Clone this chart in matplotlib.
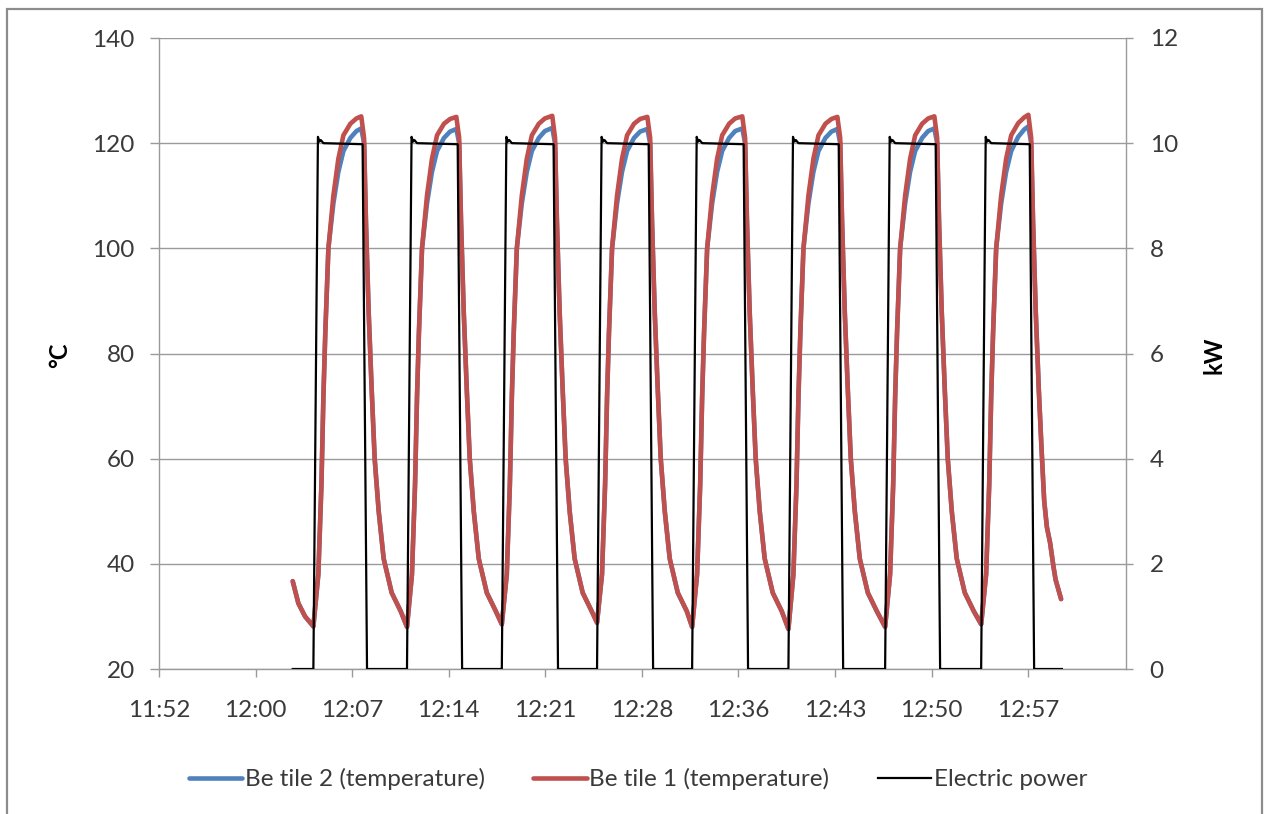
import matplotlib
matplotlib.use("Agg")
import matplotlib.pyplot as plt
from matplotlib.patches import Rectangle

# ---- data (time in minutes after 12:00) ----
t_temp = [
    2.77, 3.19, 3.69,
    # cycle 1
    4.31, 4.68, 4.91, 5.06, 5.20, 5.43, 5.80, 6.17, 6.55, 7.07, 7.52,
    7.88, 8.09, 8.23, 8.43, 8.66, 8.88, 9.18, 9.55, 10.15, 10.82,
    # cycle 2
    11.29, 11.66, 11.89, 12.04, 12.18, 12.41, 12.78, 13.15, 13.53, 14.05, 14.50,
    14.97, 15.18, 15.32, 15.52, 15.75, 15.97, 16.27, 16.64, 17.24, 17.91,
    # cycle 3
    18.36, 18.73, 18.96, 19.11, 19.25, 19.48, 19.85, 20.22, 20.60, 21.12, 21.57,
    22.12, 22.33, 22.47, 22.67, 22.90, 23.12, 23.42, 23.79, 24.39, 25.06,
    # cycle 4
    25.46, 25.83, 26.06, 26.21, 26.35, 26.58, 26.95, 27.32, 27.70, 28.22, 28.67,
    29.21, 29.42, 29.56, 29.76, 29.99, 30.21, 30.51, 30.88, 31.48, 32.15,
    # cycle 5
    32.55, 32.92, 33.15, 33.30, 33.44, 33.67, 34.04, 34.41, 34.79, 35.31, 35.76,
    36.29, 36.50, 36.64, 36.84, 37.07, 37.29, 37.59, 37.96, 38.56, 39.23,
    # cycle 6
    39.73, 40.10, 40.33, 40.48, 40.62, 40.85, 41.22, 41.59, 41.97, 42.49, 42.94,
    43.38, 43.59, 43.73, 43.93, 44.16, 44.38, 44.68, 45.05, 45.65, 46.32,
    # cycle 7
    46.94, 47.31, 47.54, 47.69, 47.83, 48.06, 48.43, 48.80, 49.18, 49.70, 50.15,
    50.61, 50.82, 50.96, 51.16, 51.39, 51.61, 51.91, 52.28, 52.88, 53.55,
    # cycle 8
    54.10, 54.47, 54.70, 54.85, 54.99, 55.22, 55.59, 55.96, 56.34, 56.86, 57.31,
    57.62, 57.83, 57.97, 58.17, 58.40, 58.60, 58.80, 59.00, 59.24, 59.49, 59.65, 60.06,
]

tile1_temp = [
    36.7, 32.5, 30.0,
    28.1, 38, 55, 72, 84, 100, 110, 117, 121.5, 123.7, 124.7,
    125.1, 121, 105, 88, 73, 60, 50, 41, 34.5, 31,
    28.0, 38, 55, 72, 84, 100, 110, 117, 121.5, 123.7, 124.6,
    125.0, 121, 105, 88, 73, 60, 50, 41, 34.5, 31,
    28.5, 38, 55, 72, 84, 100, 110, 117, 121.5, 123.7, 124.7,
    125.2, 121, 105, 88, 73, 60, 50, 41, 34.5, 31,
    28.8, 38, 55, 72, 84, 100, 110, 117, 121.5, 123.7, 124.6,
    125.0, 121, 105, 88, 73, 60, 50, 41, 34.5, 31,
    28.0, 38, 55, 72, 84, 100, 110, 117, 121.5, 123.7, 124.7,
    125.1, 121, 105, 88, 73, 60, 50, 41, 34.5, 31,
    27.6, 38, 55, 72, 84, 100, 110, 117, 121.5, 123.7, 124.6,
    125.0, 121, 105, 88, 73, 60, 50, 41, 34.5, 31,
    28.0, 38, 55, 72, 84, 100, 110, 117, 121.5, 123.7, 124.7,
    125.1, 121, 105, 88, 73, 60, 50, 41, 34.5, 31,
    28.5, 38, 55, 72, 84, 100, 110, 117, 121.5, 123.8, 124.9,
    125.4, 121, 105, 88, 73, 62, 52, 47, 44, 39.5, 37, 33.3,
]

tile2_temp = [
    36.7, 32.5, 30.0,
    28.1, 38, 55, 72, 84, 100, 108.5, 114.5, 118.5, 121.0, 122.3,
    122.8, 120, 105, 88, 73, 60, 50, 41, 34.5, 31,
    28.0, 38, 55, 72, 84, 100, 108.5, 114.5, 118.5, 121.0, 122.2,
    122.7, 120, 105, 88, 73, 60, 50, 41, 34.5, 31,
    28.5, 38, 55, 72, 84, 100, 108.5, 114.5, 118.5, 121.0, 122.3,
    122.9, 120, 105, 88, 73, 60, 50, 41, 34.5, 31,
    28.8, 38, 55, 72, 84, 100, 108.5, 114.5, 118.5, 121.0, 122.2,
    122.7, 120, 105, 88, 73, 60, 50, 41, 34.5, 31,
    28.0, 38, 55, 72, 84, 100, 108.5, 114.5, 118.5, 121.0, 122.3,
    122.8, 120, 105, 88, 73, 60, 50, 41, 34.5, 31,
    27.6, 38, 55, 72, 84, 100, 108.5, 114.5, 118.5, 121.0, 122.2,
    122.7, 120, 105, 88, 73, 60, 50, 41, 34.5, 31,
    28.0, 38, 55, 72, 84, 100, 108.5, 114.5, 118.5, 121.0, 122.3,
    122.8, 120, 105, 88, 73, 60, 50, 41, 34.5, 31,
    28.5, 38, 55, 72, 84, 100, 108.5, 114.5, 118.5, 121.2, 122.6,
    123.2, 120, 105, 88, 73, 62, 52, 47, 44, 39.5, 37, 33.3,
]

t_power = [
    2.77,
    4.31, 4.65, 4.76, 4.86, 5.06, 7.98, 8.31,
    11.29, 11.63, 11.74, 11.84, 12.04, 15.07, 15.40,
    18.36, 18.70, 18.81, 18.91, 19.11, 22.22, 22.55,
    25.46, 25.80, 25.91, 26.01, 26.21, 29.31, 29.64,
    32.55, 32.89, 33.00, 33.10, 33.30, 36.39, 36.72,
    39.73, 40.07, 40.18, 40.28, 40.48, 43.48, 43.81,
    46.94, 47.28, 47.39, 47.49, 47.69, 50.71, 51.04,
    54.10, 54.44, 54.55, 54.65, 54.85, 57.72, 58.05,
    60.12,
]
power_kw = [
    0,
    0, 10.12, 10.03, 10.06, 10.0, 9.98, 0,
    0, 10.12, 10.03, 10.06, 10.0, 9.98, 0,
    0, 10.12, 10.03, 10.06, 10.0, 9.98, 0,
    0, 10.12, 10.03, 10.06, 10.0, 9.98, 0,
    0, 10.12, 10.03, 10.06, 10.0, 9.98, 0,
    0, 10.12, 10.03, 10.06, 10.0, 9.98, 0,
    0, 10.12, 10.03, 10.06, 10.0, 9.98, 0,
    0, 10.12, 10.03, 10.06, 10.0, 9.98, 0,
    0,
]

# axis ticks (minutes after 12:00) and their labels
x_ticks = [-7.2, 0.0, 7.2, 14.4, 21.6, 28.8, 36.0, 43.2, 50.4, 57.6]
x_labels = ["11:52", "12:00", "12:07", "12:14", "12:21",
            "12:28", "12:36", "12:43", "12:50", "12:57"]
y_left_ticks = [20, 40, 60, 80, 100, 120, 140]
y_right_ticks = [0, 2, 4, 6, 8, 10, 12]

# ---- style ----
FONT = "Lato"
TXT = "#3a3a3a"
GRID = "#9a9a9a"
FS = 17.5
plt.rcParams["font.family"] = [FONT, "DejaVu Sans"]

fig = plt.figure(figsize=(12.64, 8.14), dpi=100)
fig.patch.set_facecolor("white")

# chart-area border
fig.add_artist(Rectangle((7 / 1264, -0.05), (1262 - 7) / 1264, 1.05 - 9 / 814,
                         transform=fig.transFigure, fill=False,
                         edgecolor="#8c8c8c", linewidth=1.6, zorder=0))

ax = fig.add_axes([159 / 1264, 1 - 669 / 814, (1126 - 159) / 1264, (669 - 38) / 814])
ax2 = ax.twinx()

l2, = ax.plot(t_temp, tile2_temp, color="#4F81BD", lw=3.3,
              solid_joinstyle="round", solid_capstyle="round", zorder=3)
l1, = ax.plot(t_temp, tile1_temp, color="#C0504D", lw=3.3,
              solid_joinstyle="round", solid_capstyle="round", zorder=4)
l3, = ax2.plot(t_power, power_kw, color="black", lw=1.6, zorder=5)

ax.set_xlim(-7.2, 64.9)
ax.set_ylim(20, 140)
ax2.set_ylim(0, 12)

ax.set_xticks(x_ticks)
ax.set_xticklabels(x_labels)
ax.set_yticks(y_left_ticks)
ax2.set_yticks(y_right_ticks)

ax.grid(axis="y", color=GRID, lw=1.0)
ax.set_axisbelow(True)

for a in (ax, ax2):
    a.spines["top"].set_visible(False)
    for side in ("left", "right", "bottom"):
        a.spines[side].set_color(GRID)
        a.spines[side].set_linewidth(1.0)
ax.spines["right"].set_visible(False)
ax2.spines["left"].set_visible(False)
ax2.spines["bottom"].set_visible(False)

ax.tick_params(axis="y", direction="out", length=6.5, width=1, color=GRID,
               labelsize=FS, labelcolor=TXT, pad=11)
ax.tick_params(axis="x", direction="out", length=6, width=1, color=GRID,
               labelsize=FS, labelcolor=TXT, pad=16)
ax2.tick_params(axis="y", direction="out", length=5, width=1, color=GRID,
                labelsize=FS, labelcolor=TXT, pad=12)

# power axis above the temperature axis so the black trace draws on top
ax2.set_zorder(ax.get_zorder() + 1)
ax2.patch.set_visible(False)

fig.text(60 / 1264, 1 - 355 / 814, "°C", rotation=90, ha="center", va="center",
         fontsize=17, fontweight="bold", color="black")
fig.text(1214 / 1264, 1 - 355 / 814, "kW", rotation=90, ha="center", va="center",
         fontsize=17, fontweight="bold", color="black")

leg = fig.legend([l2, l1, l3],
                 ["Be tile 2 (temperature)", "Be tile 1 (temperature)", "Electric power"],
                 loc="center", bbox_to_anchor=(638 / 1264, 1 - 779 / 814), ncol=3,
                 frameon=False, fontsize=FS, handlelength=2.2, handletextpad=0.1,
                 columnspacing=2.0, labelcolor=TXT)

fig.savefig("out.png", dpi=100, facecolor="white")
